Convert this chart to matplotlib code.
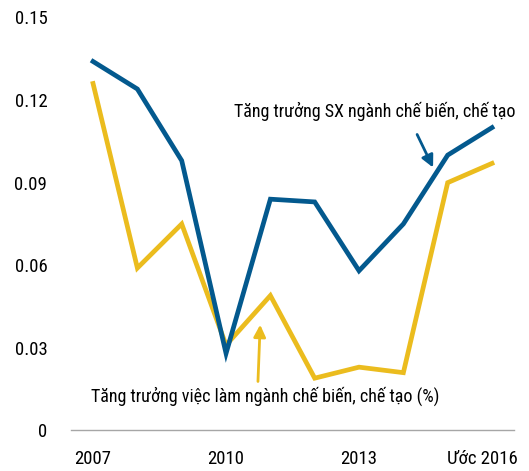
import matplotlib.pyplot as plt
import matplotlib.transforms as mtransforms

years = [2007, 2008, 2009, 2010, 2011, 2012, 2013, 2014, 2015, 2016]
# Tang truong SX nganh che bien, che tao
san_xuat = [0.134, 0.124, 0.098, 0.028, 0.084, 0.083, 0.058, 0.075, 0.100, 0.110]
# Tang truong viec lam nganh che bien, che tao
viec_lam = [0.126, 0.059, 0.075, 0.031, 0.049, 0.019, 0.023, 0.021, 0.090, 0.097]

xtick_pos = [2007, 2010, 2013, 2016]
xtick_labels = ["2007", "2010", "2013", "Ước 2016"]
ytick_pos = [0, 0.03, 0.06, 0.09, 0.12, 0.15]
ytick_labels = ["0", "0.03", "0.06", "0.09", "0.12", "0.15"]

BLUE = "#03598e"
YELLOW = "#ebbc1e"

plt.rcParams['font.family'] = ["Roboto Condensed", "DejaVu Sans"]

fig = plt.figure(figsize=(5.29, 4.71), dpi=100)
ax = fig.add_axes([0.134, 0.086, 0.838, 0.877])

ax.plot(years, san_xuat, color=BLUE, lw=3.4, solid_joinstyle='miter', zorder=3)
ax.plot(years, viec_lam, color=YELLOW, lw=3.4, solid_joinstyle='miter', zorder=2)

ax.set_xlim(2006.5, 2016.5)
ax.set_ylim(0, 0.15)

for s in ['top', 'right', 'left']:
    ax.spines[s].set_visible(False)
ax.spines['bottom'].set_color('#a6a6a6')
ax.spines['bottom'].set_linewidth(1.0)

ax.set_xticks(xtick_pos)
ax.set_xticklabels(xtick_labels, fontsize=13.5)
ax.set_yticks(ytick_pos)
ax.set_yticklabels(ytick_labels, fontsize=13.5)
ax.tick_params(axis='both', length=0)
ax.tick_params(axis='x', pad=14)
ax.tick_params(axis='y', pad=17)

# last label sits a bit left of its tick in the original
lbl = ax.get_xticklabels()[-1]
lbl.set_transform(lbl.get_transform() + mtransforms.ScaledTranslation(-0.10, 0, fig.dpi_scale_trans))

# labels
ax.text(2013.35, 0.1158, "Tăng trưởng SX ngành chế biến, chế tạo",
        ha='center', va='center', fontsize=13, color='black')
ax.text(2010.88, 0.0125, "Tăng trưởng việc làm ngành chế biến, chế tạo (%)",
        ha='center', va='center', fontsize=13, color='black')

# arrows pointing at the lines
ax.annotate("", xy=(2014.67, 0.0955), xytext=(2014.31, 0.1075),
            arrowprops=dict(arrowstyle='-|>', color=BLUE, lw=2.0,
                            mutation_scale=18, shrinkA=0, shrinkB=0))
ax.annotate("", xy=(2010.77, 0.0384), xytext=(2010.72, 0.0178),
            arrowprops=dict(arrowstyle='-|>', color=YELLOW, lw=2.0,
                            mutation_scale=18, shrinkA=0, shrinkB=0))

fig.savefig("out.png", dpi=100)
